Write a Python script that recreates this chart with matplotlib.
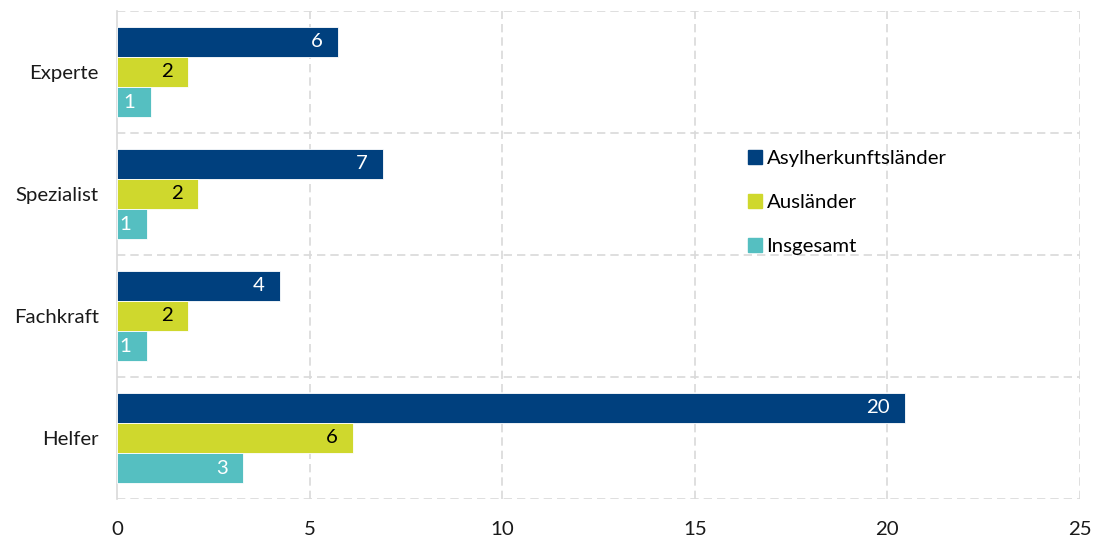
import numpy as np
import matplotlib.pyplot as plt
from matplotlib.patches import Patch

plt.rcParams['font.family'] = ['Lato', 'DejaVu Sans']

categories = ['Helfer', 'Fachkraft', 'Spezialist', 'Experte']
series = ['Asylherkunftsländer', 'Ausländer', 'Insgesamt']
asyl = [20.45, 4.23, 6.9, 5.74]
auslaender = [6.12, 1.84, 2.1, 1.84]
insgesamt = [3.28, 0.78, 0.78, 0.88]

colors = ['#00407E', '#CFD82D', '#55BFC1']
text_colors = ['white', 'black', 'white']
fs = 14.7

fig = plt.figure(figsize=(10.95, 5.38), dpi=100)
ax = fig.add_axes([0.1068, 0.0725, 0.8795, 0.9071])

y = np.arange(len(categories))
h = 0.248
for i, (vals, c, tc) in enumerate(zip([asyl, auslaender, insgesamt], colors, text_colors)):
    pos = y + (1 - i) * h
    bars = ax.barh(pos, vals, height=h, color=c, edgecolor='white', linewidth=0.6, zorder=3)
    for b, v in zip(bars, vals):
        ax.text(b.get_width() - 0.4, b.get_y() + b.get_height() / 2, f'{v:.0f}',
                ha='right', va='center', color=tc, fontsize=fs, zorder=4)

ax.set_xlim(0, 25)
ax.set_ylim(-0.5, 3.5)
ax.set_xticks(np.arange(0, 26, 5))
ax.set_yticks(y)
ax.set_yticklabels(categories)
ax.tick_params(axis='both', length=0, labelsize=fs, colors='#1a1a1a')
ax.tick_params(axis='x', pad=16)
ax.tick_params(axis='y', pad=13)

grid_kw = dict(color='#d9d9d9', linestyle=(0, (5, 3)), linewidth=1.2, zorder=1)
for xv in np.arange(5, 26, 5):
    ax.axvline(xv, **grid_kw)
for yv in np.arange(-0.5, 3.6, 1):
    ax.axhline(yv, **grid_kw)

for s in ['top', 'right', 'bottom']:
    ax.spines[s].set_visible(False)
ax.spines['left'].set_color('#d9d9d9')
ax.spines['left'].set_linewidth(1.2)

handles = [Patch(color=c) for c in colors]
leg = ax.legend(handles, series, loc='upper left', bbox_to_anchor=(0.647, 0.732),
                frameon=False, fontsize=fs, handlelength=0.7, handleheight=0.7,
                handletextpad=0.2, labelspacing=1.3, borderaxespad=0)

fig.savefig('out.png', dpi=100)
